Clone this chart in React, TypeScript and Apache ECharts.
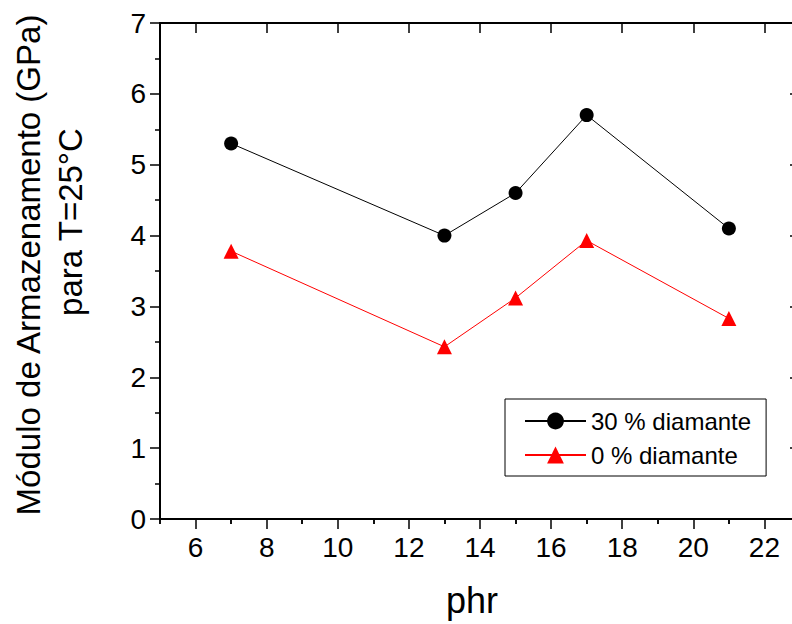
import React, { useEffect, useRef } from "react";
import * as echarts from "echarts";

// phr content of each sample
const PHR = [7, 13, 15, 17, 21];
// Storage modulus at 25 °C (GPa)
const DIAMOND_30 = [5.3, 4.0, 4.6, 5.7, 4.1];
const DIAMOND_0 = [3.78, 2.43, 3.12, 3.93, 2.83];

const SERIES_NAMES = ["30 % diamante", "0 % diamante"];

// Tick positions of the x axis
const X_MAJOR = [6, 8, 10, 12, 14, 16, 18, 20, 22];
const X_MINOR = [5, 7, 9, 11, 13, 15, 17, 19, 21, 23];

const Y_TITLE_1 = "Módulo de Armazenamento (GPa)";
const Y_TITLE_2 = "para T=25°C";
const X_TITLE = "phr";

const FONT = "Liberation Sans";

export default function App() {
  const ref = useRef<HTMLDivElement>(null);

  useEffect(() => {
    if (!ref.current) return;
    const chart = echarts.init(ref.current, null, { renderer: "svg" });

    const lineStyle = { color: "#000", width: 2 };
    const tickStyle = { color: "#000", width: 1.5 };
    const xBase = {
      type: "value" as const,
      min: 5,
      max: 23,
      gridIndex: 0,
      splitLine: { show: false },
    };
    const yBase = {
      type: "value" as const,
      min: 0,
      max: 7,
      interval: 1,
      splitLine: { show: false },
    };

    chart.setOption({
      animation: false,
      backgroundColor: "#fff",
      textStyle: { fontFamily: FONT },
      grid: { left: 160, top: 23, width: 640, height: 496 },
      xAxis: [
        {
          ...xBase,
          position: "bottom",
          axisLine: { show: true, onZero: false, lineStyle },
          axisTick: { show: true, length: 10, customValues: X_MAJOR, lineStyle: tickStyle },
          axisLabel: {
            show: true,
            customValues: X_MAJOR,
            fontSize: 28,
            color: "#000",
            margin: 14,
            fontFamily: FONT,
          },
        },
        {
          ...xBase,
          position: "bottom",
          axisLine: { show: false },
          axisTick: { show: true, length: 5, customValues: X_MINOR, lineStyle: tickStyle },
          axisLabel: { show: false },
        },
        {
          ...xBase,
          position: "top",
          axisLine: { show: true, onZero: false, lineStyle },
          axisTick: { show: true, inside: true, length: 10, customValues: X_MAJOR, lineStyle: tickStyle },
          axisLabel: { show: false },
        },
        {
          ...xBase,
          position: "top",
          axisLine: { show: false },
          axisTick: { show: true, inside: true, length: 5, customValues: X_MINOR, lineStyle: tickStyle },
          axisLabel: { show: false },
        },
      ],
      yAxis: [
        {
          ...yBase,
          position: "left",
          axisLine: { show: true, onZero: false, lineStyle },
          axisTick: { show: true, length: 10, lineStyle: tickStyle },
          minorTick: { show: true, splitNumber: 2, length: 5, lineStyle: tickStyle },
          axisLabel: { fontSize: 28, color: "#000", margin: 14, fontFamily: FONT },
        },
        {
          ...yBase,
          position: "right",
          axisLine: { show: true, onZero: false, lineStyle },
          axisTick: { show: true, inside: true, length: 10, lineStyle: tickStyle },
          minorTick: { show: true, splitNumber: 2, length: 5, lineStyle: tickStyle },
          axisLabel: { show: false },
        },
      ],
      legend: {
        orient: "vertical",
        left: 505,
        top: 399,
        padding: [10, 15, 9, 19],
        itemWidth: 61,
        itemHeight: 21,
        itemGap: 10,
        borderColor: "#000",
        borderWidth: 1,
        borderRadius: 0,
        textStyle: { fontSize: 24, color: "#000", fontFamily: FONT },
        data: SERIES_NAMES,
      },
      series: [
        {
          name: SERIES_NAMES[0],
          type: "line",
          xAxisIndex: 0,
          yAxisIndex: 0,
          data: PHR.map((x, i) => [x, DIAMOND_30[i]]),
          symbol: "circle",
          symbolSize: 14,
          itemStyle: { color: "#000" },
          lineStyle: { color: "#000", width: 1 },
        },
        {
          name: SERIES_NAMES[1],
          type: "line",
          xAxisIndex: 0,
          yAxisIndex: 0,
          data: PHR.map((x, i) => [x, DIAMOND_0[i]]),
          symbol: "triangle",
          symbolSize: 15,
          itemStyle: { color: "#ff0000" },
          lineStyle: { color: "#ff0000", width: 1 },
        },
      ],
      graphic: [
        {
          type: "text",
          x: 28,
          y: 265,
          rotation: Math.PI / 2,
          style: {
            text: Y_TITLE_1,
            font: `33px ${FONT}`,
            fill: "#000",
            textAlign: "center",
            textVerticalAlign: "middle",
          },
        },
        {
          type: "text",
          x: 70,
          y: 222,
          rotation: Math.PI / 2,
          style: {
            text: Y_TITLE_2,
            font: `33px ${FONT}`,
            fill: "#000",
            textAlign: "center",
            textVerticalAlign: "middle",
          },
        },
        {
          type: "text",
          x: 472,
          y: 600,
          style: {
            text: X_TITLE,
            font: `36px ${FONT}`,
            fill: "#000",
            textAlign: "center",
            textVerticalAlign: "middle",
          },
        },
      ],
    });

    return () => chart.dispose();
  }, []);

  return (
    <div
      style={{
        position: "fixed",
        left: 0,
        top: 0,
        width: 792,
        height: 624,
        overflow: "hidden",
        background: "#fff",
      }}
    >
      <div ref={ref} style={{ width: 820, height: 624 }} />
    </div>
  );
}
